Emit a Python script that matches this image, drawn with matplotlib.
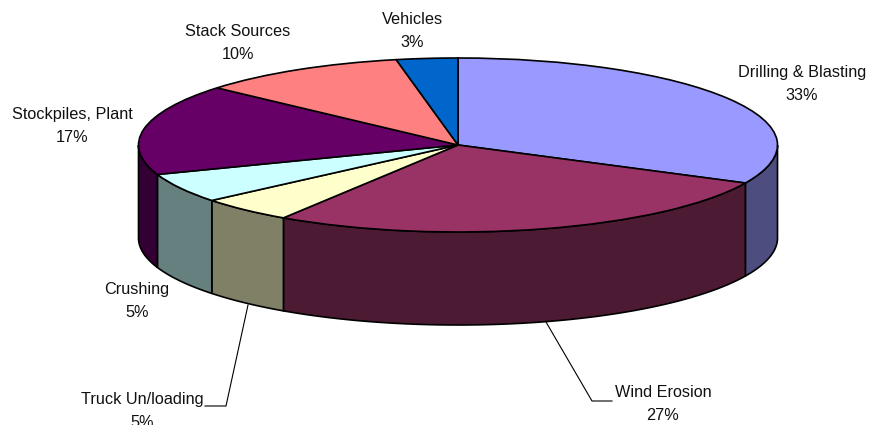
#!/usr/bin/env python3

import matplotlib.pyplot as plt
import numpy as np
from matplotlib.colors import to_rgb
from matplotlib.transforms import Affine2D

plt.rcParams['font.family'] = ['Liberation Sans', 'DejaVu Sans']

categories = ['Drilling & Blasting', 'Wind Erosion', 'Truck Un/loading', 'Crushing',
              'Stockpiles, Plant', 'Stack Sources', 'Vehicles']
values = [32.2, 27.0, 4.8, 5.5, 16.9, 10.5, 3.1]
percent_labels = ['33%', '27%', '5%', '5%', '17%', '10%', '3%']
top_colors = ['#9999FF', '#993366', '#FFFFCC', '#CCFFFF', '#660066', '#FF8080', '#0066CC']

W, H = 870, 425
cx, cy = 458, H - 145
rx, ry = 319.5, 87
depth = 93

# label centres and leader lines, in picture pixels
label_pos = [(802, 84), (663, 404), (142, 411), (137, 301), (72, 126), (238, 43), (412, 31)]
leaders = {1: [(546, 322), (592, 401), (612, 401)],
           2: [(248, 305), (226, 406), (205, 406)]}

fig = plt.figure(figsize=(W / 100, H / 100), dpi=100)
ax = fig.add_axes([0, 0, 1, 1])

wedges, _ = ax.pie(values, colors=top_colors, startangle=90, counterclock=False,
                   wedgeprops={'edgecolor': 'black', 'linewidth': 1.2})
ax.set_aspect('auto')
ax.set_xlim(0, W)
ax.set_ylim(0, H)
ax.axis('off')

# squash the flat pie into the top face
squash = Affine2D().scale(rx, ry).translate(cx, cy) + ax.transData
for w in wedges:
    w.set_transform(squash)
    w.set_zorder(3)

# side walls, only the front half of the rim shows
edges = 90 - np.cumsum([0] + values) / sum(values) * 360
for i in range(len(values)):
    lo, hi = max(edges[i + 1], -180), min(edges[i], 0)
    if hi <= lo:
        continue
    t = np.radians(np.linspace(lo, hi, 80))
    x = cx + rx * np.cos(t)
    y = cy + ry * np.sin(t)
    xs = np.concatenate([x, x[::-1]])
    ys = np.concatenate([y, y[::-1] - depth])
    side = tuple(c * 0.5 for c in to_rgb(top_colors[i]))
    ax.fill(xs, ys, facecolor=side, edgecolor='black', linewidth=1.2, zorder=2)

for i, name in enumerate(categories):
    px, py = label_pos[i]
    ax.text(px, H - py, f'{name}\n{percent_labels[i]}', ha='center', va='center',
            fontsize=11.7, color='#111111', linespacing=1.63, zorder=5)

for pts in leaders.values():
    ax.plot([p[0] for p in pts], [H - p[1] for p in pts], color='black', lw=0.8, zorder=1)

fig.savefig('out.png', dpi=100)
